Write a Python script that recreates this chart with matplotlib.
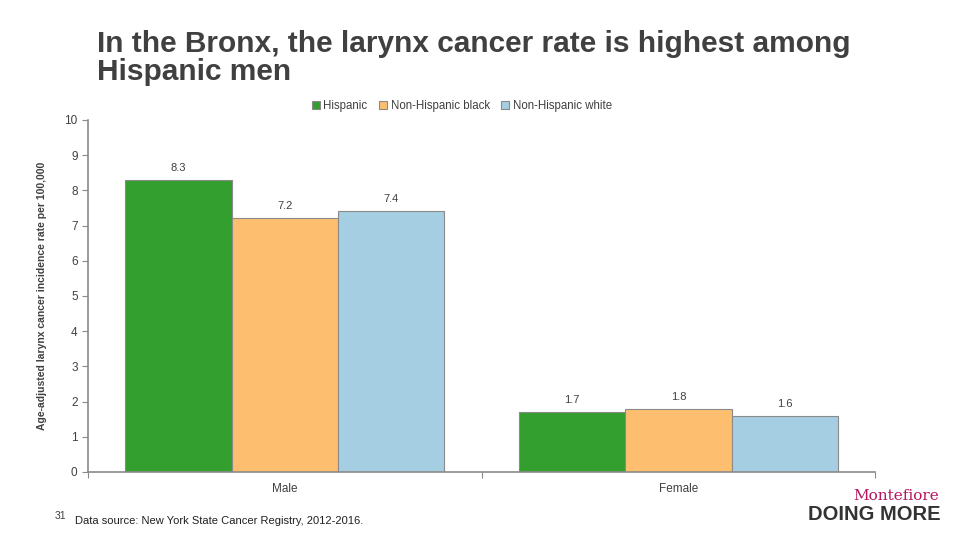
import matplotlib.pyplot as plt
import numpy as np

categories = ['Male', 'Female']
series = ['Hispanic', 'Non-Hispanic black', 'Non-Hispanic white']
hispanic = [8.3, 1.7]
nh_black = [7.2, 1.8]
nh_white = [7.4, 1.6]
colors = ['#339f2f', '#fdbf6f', '#a6cee3']

plt.rcParams['font.family'] = ['Liberation Sans', 'DejaVu Sans']

fig = plt.figure(figsize=(9.6, 5.4), dpi=100)
ax = fig.add_axes([0.0917, 0.126, 0.82, 0.652])

x = np.arange(len(categories))
w = 0.27
for i, (name, vals) in enumerate(zip(series, [hispanic, nh_black, nh_white])):
    pos = x + (i - 1) * w
    ax.bar(pos, vals, w, color=colors[i], edgecolor='#8a8a8a', linewidth=0.8,
           label=name, zorder=2)
    for p, v in zip(pos, vals):
        ax.text(p, v + 0.2, f'{v:.1f}', ha='center', va='bottom',
                fontsize=8, color='#404040')

ax.set_xlim(-0.5, 1.5)
ax.set_ylim(0, 10)
ax.set_yticks(range(0, 11))
ax.set_xticks([-0.5, 0.5, 1.5])
ax.set_xticklabels([])
ax.set_xticks(x, minor=True)
ax.set_xticklabels(categories, minor=True)
ax.tick_params(axis='x', which='minor', length=0, pad=8, labelsize=8.5, labelcolor='#404040')
ax.tick_params(axis='x', which='major', length=4, color='#8a8a8a')
ax.tick_params(axis='y', length=4, color='#8a8a8a', labelsize=8.5, labelcolor='#404040')
for s in ['top', 'right']:
    ax.spines[s].set_visible(False)
for s in ['left', 'bottom']:
    ax.spines[s].set_color('#8a8a8a')
    ax.spines[s].set_linewidth(1.2)

ax.set_ylabel('Age-adjusted larynx cancer incidence rate per 100,000',
              fontsize=7.5, fontweight='bold', color='#404040')
ax.yaxis.set_label_coords(-0.052, 0.5)

ax.legend(loc='lower center', bbox_to_anchor=(0.475, 1.005), ncol=3, frameon=False,
          fontsize=8.3, handlelength=0.7, handleheight=0.7, handletextpad=0.3,
          columnspacing=1.0, labelcolor='#404040', borderaxespad=0.1)

fig.text(0.101, 0.893, 'In the Bronx, the larynx cancer rate is highest among\nHispanic men',
         fontsize=21.5, fontweight='bold', ha='left', va='center', color='#404040',
         linespacing=1.0)

fig.text(0.057, 0.035, '31', fontsize=7.5, color='#404040', va='bottom')
fig.text(0.078, 0.025, 'Data source: New York State Cancer Registry, 2012-2016.',
         fontsize=8, color='#202020', va='bottom')

fig.text(0.978, 0.068, 'Montefiore', fontsize=11, family='DejaVu Serif',
         color='#b5135e', ha='right', va='bottom')
fig.text(0.98, 0.03, 'DOING MORE', fontsize=14.5, fontweight='bold',
         color='#333333', ha='right', va='bottom')

fig.savefig('out.png', dpi=100)
